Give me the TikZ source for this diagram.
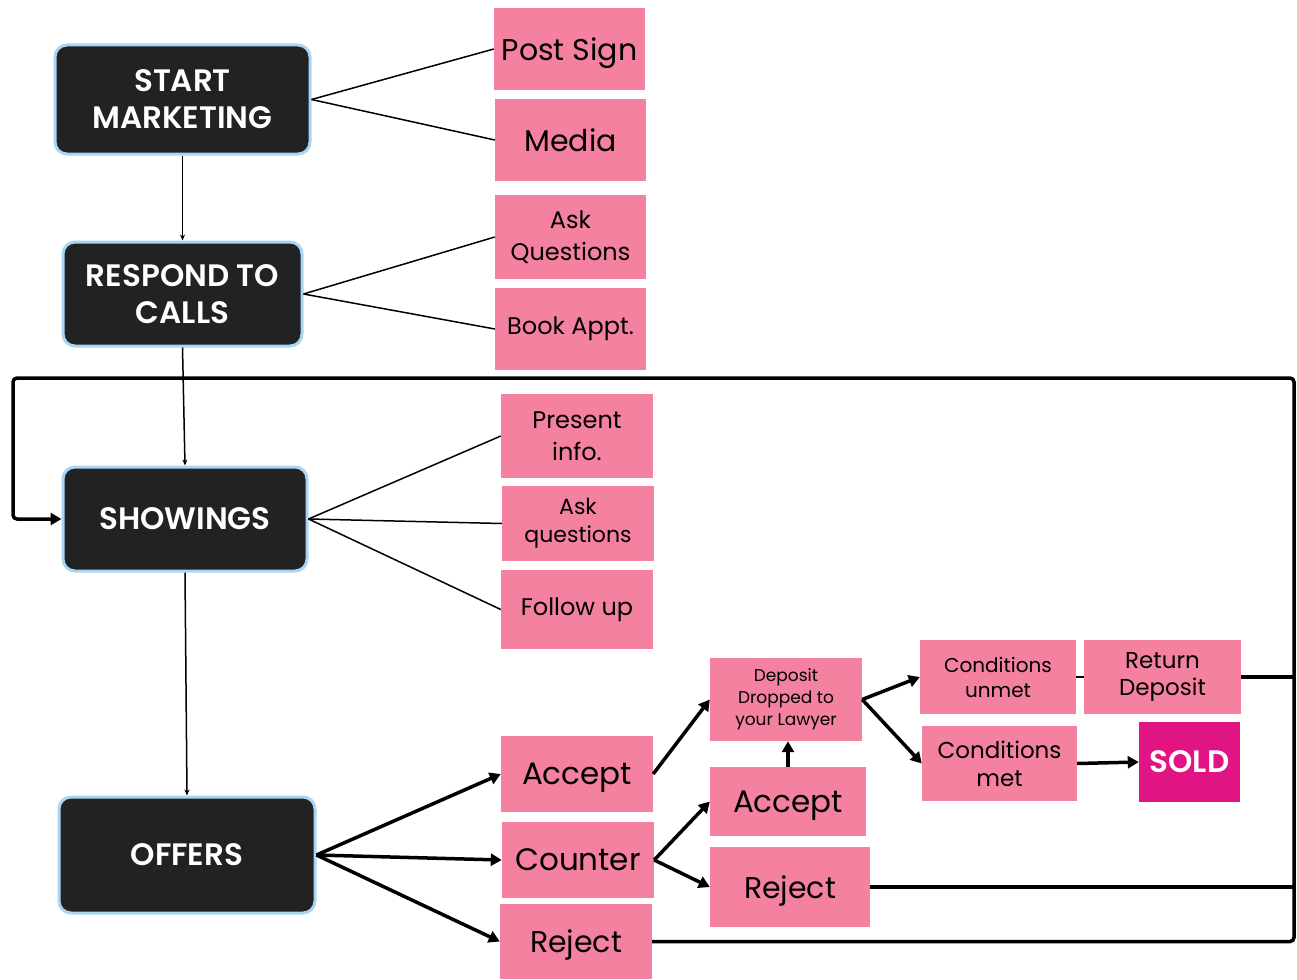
\documentclass[tikz,border=0pt]{standalone}
\usepackage{fontspec}
\setmainfont{Poppins}
\newfontfamily\semib{Poppins SemiBold}
\usetikzlibrary{arrows.meta}
\definecolor{pinkbox}{HTML}{F3819F}
\definecolor{darkbox}{HTML}{222222}
\definecolor{lblue}{HTML}{A9D5F5}
\definecolor{soldc}{HTML}{E01483}
\newcommand{\fs}[2]{\fontsize{#1}{#2}\selectfont}
\begin{document}
\begin{tikzpicture}[x=1pt,y=-1pt,
  darkn/.style={draw=lblue, line width=3pt, fill=darkbox, rounded corners=12pt, text=white,
     font=\semib\fs{31}{37}, align=center, inner sep=0pt},
  pinkn/.style={fill=pinkbox, text=black, align=center, inner sep=0pt},
  thinline/.style={line width=1.5pt, draw=black},
  thinarrow/.style={line width=1.5pt, draw=black, -{Stealth[length=6pt,width=5pt]}},
  thickarrow/.style={line width=3.5pt, draw=black, -{Triangle[length=11pt,width=12pt]}},
  thickline/.style={line width=3.5pt, draw=black}]
\useasboundingbox (0,0) rectangle (1297,979);
% dark boxes
\node[darkn, minimum width=255pt, minimum height=109pt] (start) at (182.5,99.5) {START\\MARKETING};
\node[darkn, minimum width=239pt, minimum height=104pt] (respond) at (182.5,294) {RESPOND TO\\CALLS};
\node[darkn, minimum width=244pt, minimum height=104pt] (showings) at (185,519) {SHOWINGS};
\node[darkn, minimum width=256pt, minimum height=116pt] (offers) at (187,855) {OFFERS};
% pink boxes
\node[pinkn, minimum width=151pt, minimum height=82pt, font=\fs{30}{34}, text depth=0pt] (post) at (569.5,49) {Post Sign};
\node[pinkn, minimum width=151pt, minimum height=82pt, font=\fs{30}{34}] (media) at (570.5,140) {Media};
\node[pinkn, minimum width=151pt, minimum height=84pt, font=\fs{24}{32}] (askq) at (570.5,237) {Ask\\Questions};
\node[pinkn, minimum width=151pt, minimum height=82pt, font=\fs{24}{30}] (book) at (570.5,329) {Book Appt.};
\node[pinkn, minimum width=152pt, minimum height=84pt, font=\fs{24}{32}] (present) at (577,436) {Present\\info.};
\node[pinkn, minimum width=152pt, minimum height=75pt, font=\fs{22}{28}] (askq2) at (578,523.5) {Ask\\questions};
\node[pinkn, minimum width=152pt, minimum height=79pt, font=\fs{24}{30}] (follow) at (577,609.5) {Follow up};
\node[pinkn, minimum width=152pt, minimum height=76pt, font=\fs{31}{36}, text depth=0pt] (accept1) at (577,774) {Accept};
\node[pinkn, minimum width=152pt, minimum height=76pt, font=\fs{31}{36}] (counter) at (578,860) {Counter};
\node[pinkn, minimum width=152pt, minimum height=75pt, font=\fs{30}{36}, text depth=0pt] (reject1) at (576,941.5) {Reject};
\node[pinkn, minimum width=152pt, minimum height=83pt, font=\fs{17}{22}] (deposit) at (786,699.5) {Deposit\\Dropped to\\your Lawyer};
\node[pinkn, minimum width=156pt, minimum height=69pt, font=\fs{31}{36}, text depth=0pt] (accept2) at (788,801.5) {Accept};
\node[pinkn, minimum width=160pt, minimum height=80pt, font=\fs{30}{36}, text depth=0pt] (reject2) at (790,887) {Reject};
\node[pinkn, minimum width=156pt, minimum height=74pt, font=\fs{20}{25}] (cunmet) at (998,677) {Conditions\\unmet};
\node[pinkn, minimum width=157pt, minimum height=74pt, font=\fs{23}{28}] (ret) at (1162.5,677) {Return\\[-1pt]Deposit};
\node[pinkn, minimum width=155pt, minimum height=75pt, font=\fs{23}{28}] (cmet) at (999.5,763.5) {Conditions\\met};
\node[fill=soldc, text=white, inner sep=0pt, minimum width=101pt, minimum height=80pt, font=\semib\fs{31}{36}] (sold) at (1189.5,762) {SOLD};
% coordinates for the return loop
\coordinate (rbot) at (1294,941.5);
\coordinate (rtop) at (1294,378);
\coordinate (ltop) at (13,378);
\coordinate (lmid) at (13,519);
\coordinate (rret) at (1294,677);
\coordinate (rrej) at (1294,887);
% thin connectors
\draw[thinline] (start.east) -- (post.west);
\draw[thinline] (start.east) -- (media.west);
\draw[thinline] (respond.east) -- (askq.west);
\draw[thinline] (respond.east) -- (book.west);
\draw[thinline] (showings.east) -- (present.west);
\draw[thinline] (showings.east) -- (askq2.west);
\draw[thinline] (showings.east) -- (follow.west);
\draw[thinarrow] (start.south) -- (respond.north);
\draw[thinarrow] (respond.south) -- (showings.north);
\draw[thinarrow] (showings.south) -- (offers.north);
% thick connectors
\draw[thickarrow] (offers.east) -- (accept1.west);
\draw[thickarrow] (offers.east) -- (counter.west);
\draw[thickarrow] (offers.east) -- (reject1.west);
\draw[thickarrow] (accept1.east) -- (deposit.west);
\draw[thickarrow] (counter.east) -- (accept2.west);
\draw[thickarrow] (counter.east) -- (reject2.west);
\draw[thickarrow] (accept2.north) -- (accept2.north |- deposit.south);
\draw[thickarrow] (deposit.east) -- (cunmet.west);
\draw[thickarrow] (deposit.east) -- (cmet.west);
\draw[thickarrow] (cmet.east) -- (sold.west);
\draw[thinline] (cunmet.east) -- (ret.west);
\draw[thickline] (ret.east) -- (rret);
\draw[thickline] (reject2.east) -- (rrej);
\draw[thickline, rounded corners=4pt, -{Triangle[length=11pt,width=12pt]}] (reject1.east) -- (rbot) -- (rtop) -- (ltop) -- (lmid) -- (showings.west);
\end{tikzpicture}
\end{document}
